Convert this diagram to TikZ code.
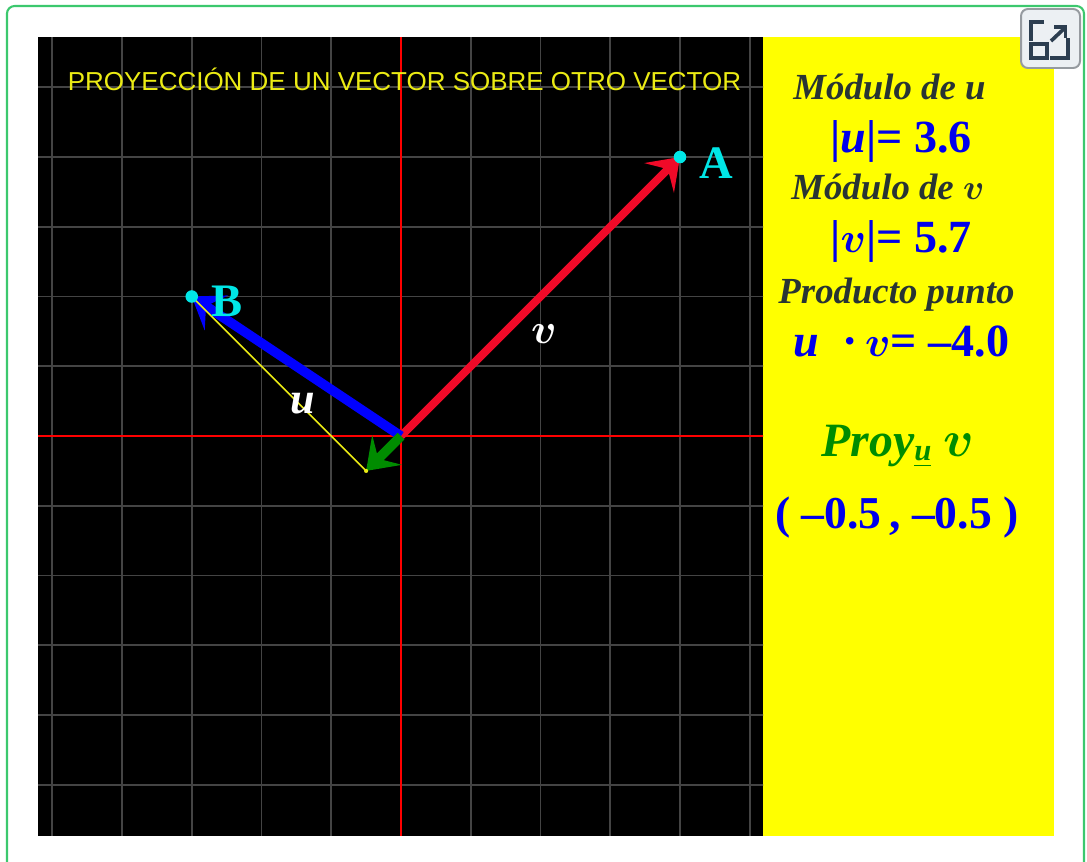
\documentclass[tikz,border=0pt]{standalone}
\usepackage{amsmath}
\usepackage{fontspec}
\setmainfont{Liberation Serif}
\newfontfamily\titlefont{Liberation Sans}
\usepackage{tikz}
\usetikzlibrary{arrows.meta}
\definecolor{panelyellow}{RGB}{255,255,0}
\definecolor{framegreen}{RGB}{60,200,110}
\definecolor{gridgray}{RGB}{68,68,68}
\definecolor{titleyellow}{RGB}{235,235,20}
\definecolor{vecred}{RGB}{240,10,40}
\definecolor{vecblue}{RGB}{0,0,255}
\definecolor{vecgreen}{RGB}{0,140,0}
\definecolor{ptcyan}{RGB}{0,230,230}
\definecolor{txtdark}{RGB}{40,52,52}
\definecolor{txtblue}{RGB}{0,0,235}
\definecolor{iconnavy}{RGB}{44,62,80}
\definecolor{iconfill}{RGB}{236,240,243}
\definecolor{iconedge}{RGB}{150,155,160}
\newcommand{\vv}{$\boldsymbol{v}$}

\begin{document}
\begin{tikzpicture}[
  vec/.style={line width=3.9pt, -{Stealth[length=12pt,width=17pt,inset=5pt]}},
  gridline/.style={draw=gridgray, line width=0.7pt},
  axisline/.style={draw=red, line width=0.6pt},
  pt/.style={circle, fill=ptcyan, inner sep=0pt, minimum size=0.18cm},
  ptlabel/.style={text=ptcyan, font=\fontsize{19}{19}\selectfont\bfseries, anchor=base, inner sep=0pt},
  veclabel/.style={text=white, font=\fontsize{18}{18}\selectfont\bfseries\itshape, anchor=base, inner sep=0pt},
  info/.style={anchor=base west, inner sep=0pt, text=txtdark, font=\fontsize{15}{15}\selectfont\bfseries\itshape},
  value/.style={anchor=base west, inner sep=0pt, text=txtblue, font=\fontsize{18.8}{19}\selectfont\bfseries},
  proj/.style={anchor=base west, inner sep=0pt, text=vecgreen, font=\fontsize{19.5}{20}\selectfont\bfseries\itshape},
]
\useasboundingbox (-5.749,-6.093) rectangle (9.835,6.251);
\fill[white] (-5.749,-6.093) rectangle (9.835,6.251);
\draw[framegreen, line width=0.85pt, rounded corners=0.11cm] (-5.649,-6.6) rectangle (9.792,6.165);

% panels and grid
\fill[black] (-5.204,-5.728) rectangle (5.190,5.720);
\fill[panelyellow] (5.190,-5.728) rectangle (9.362,5.720);
\begin{scope}
  \clip (-5.204,-5.728) rectangle (5.190,5.720);
  \draw[gridline] (-6,-6) grid (6,6);
\end{scope}
\draw[axisline] (-5.204,0) -- (5.190,0);
\draw[axisline] (0,-5.728) -- (0,5.720);

\node[anchor=base west, inner sep=0pt, text=titleyellow, font=\titlefont\fontsize{10.6}{11}\selectfont] (title) at (-4.784,4.950) {PROYECCIÓN DE UN VECTOR SOBRE OTRO VECTOR};

% vectors
\coordinate (O) at (0,0);
\coordinate (tipA) at (4,4);
\coordinate (tipB) at (-3,2);
\coordinate (P) at (-0.5,-0.5);
\draw[vec, vecred, line width=3.2pt] (O) -- (tipA);
\draw[vec, vecblue] (O) -- (tipB);
\draw[vec, vecgreen] (O) -- (P);
\draw[titleyellow, line width=0.6pt] (tipB) -- (P);
\fill[titleyellow] (P) circle (0.03);
\node[pt] (A) at (tipA) {};
\node[pt] (B) at (tipB) {};
\node[ptlabel] (labA) at (4.516,3.685) {A};
\node[ptlabel] (labB) at (-2.487,1.710) {B};
\node[veclabel] (labv) at (2.05,1.333) {\vv};
\node[veclabel] (labu) at (-1.405,0.33) {u};

% data panel
\node[info] (modu) at (5.62,4.827) {Módulo de u};
\node[value] (valu) at (6.15,4.062) {|\textit{u}|= 3.6};
\node[info] (modv) at (5.59,3.384) {Módulo de \vv};
\node[value] (valv) at (6.15,2.628) {|\vv|= 5.7};
\node[info] (prod) at (5.405,1.902) {Producto punto};
\node[value] (valp) at (5.62,1.147) {\textit{u}\ \ ·\,\vv= –4.0};
\node[proj] (proy) at (6.02,-0.287) {Proy\raisebox{-2pt}{\fontsize{12.5}{12.5}\selectfont\underline{u}}\ \vv};
\node[value, font=\fontsize{18.6}{19}\selectfont\bfseries] (valproj) at (5.36,-1.323) {( –0.5\,, –0.5 )};

% expand icon
\filldraw[fill=iconfill, draw=iconedge, line width=0.8pt, rounded corners=0.1cm] (8.889,5.276) rectangle (9.735,6.122);
\begin{scope}[iconnavy, line width=1.5pt]
  \draw (9.032,5.663) -- (9.032,5.939) -- (9.223,5.939);
  \draw (9.558,5.701) -- (9.558,5.415) -- (9.305,5.415);
  \draw (9.032,5.619) rectangle (9.257,5.415);
  \draw (9.319,5.663) -- (9.520,5.853);
  \draw (9.363,5.868) -- (9.527,5.868) -- (9.527,5.710);
\end{scope}
\end{tikzpicture}
\end{document}
